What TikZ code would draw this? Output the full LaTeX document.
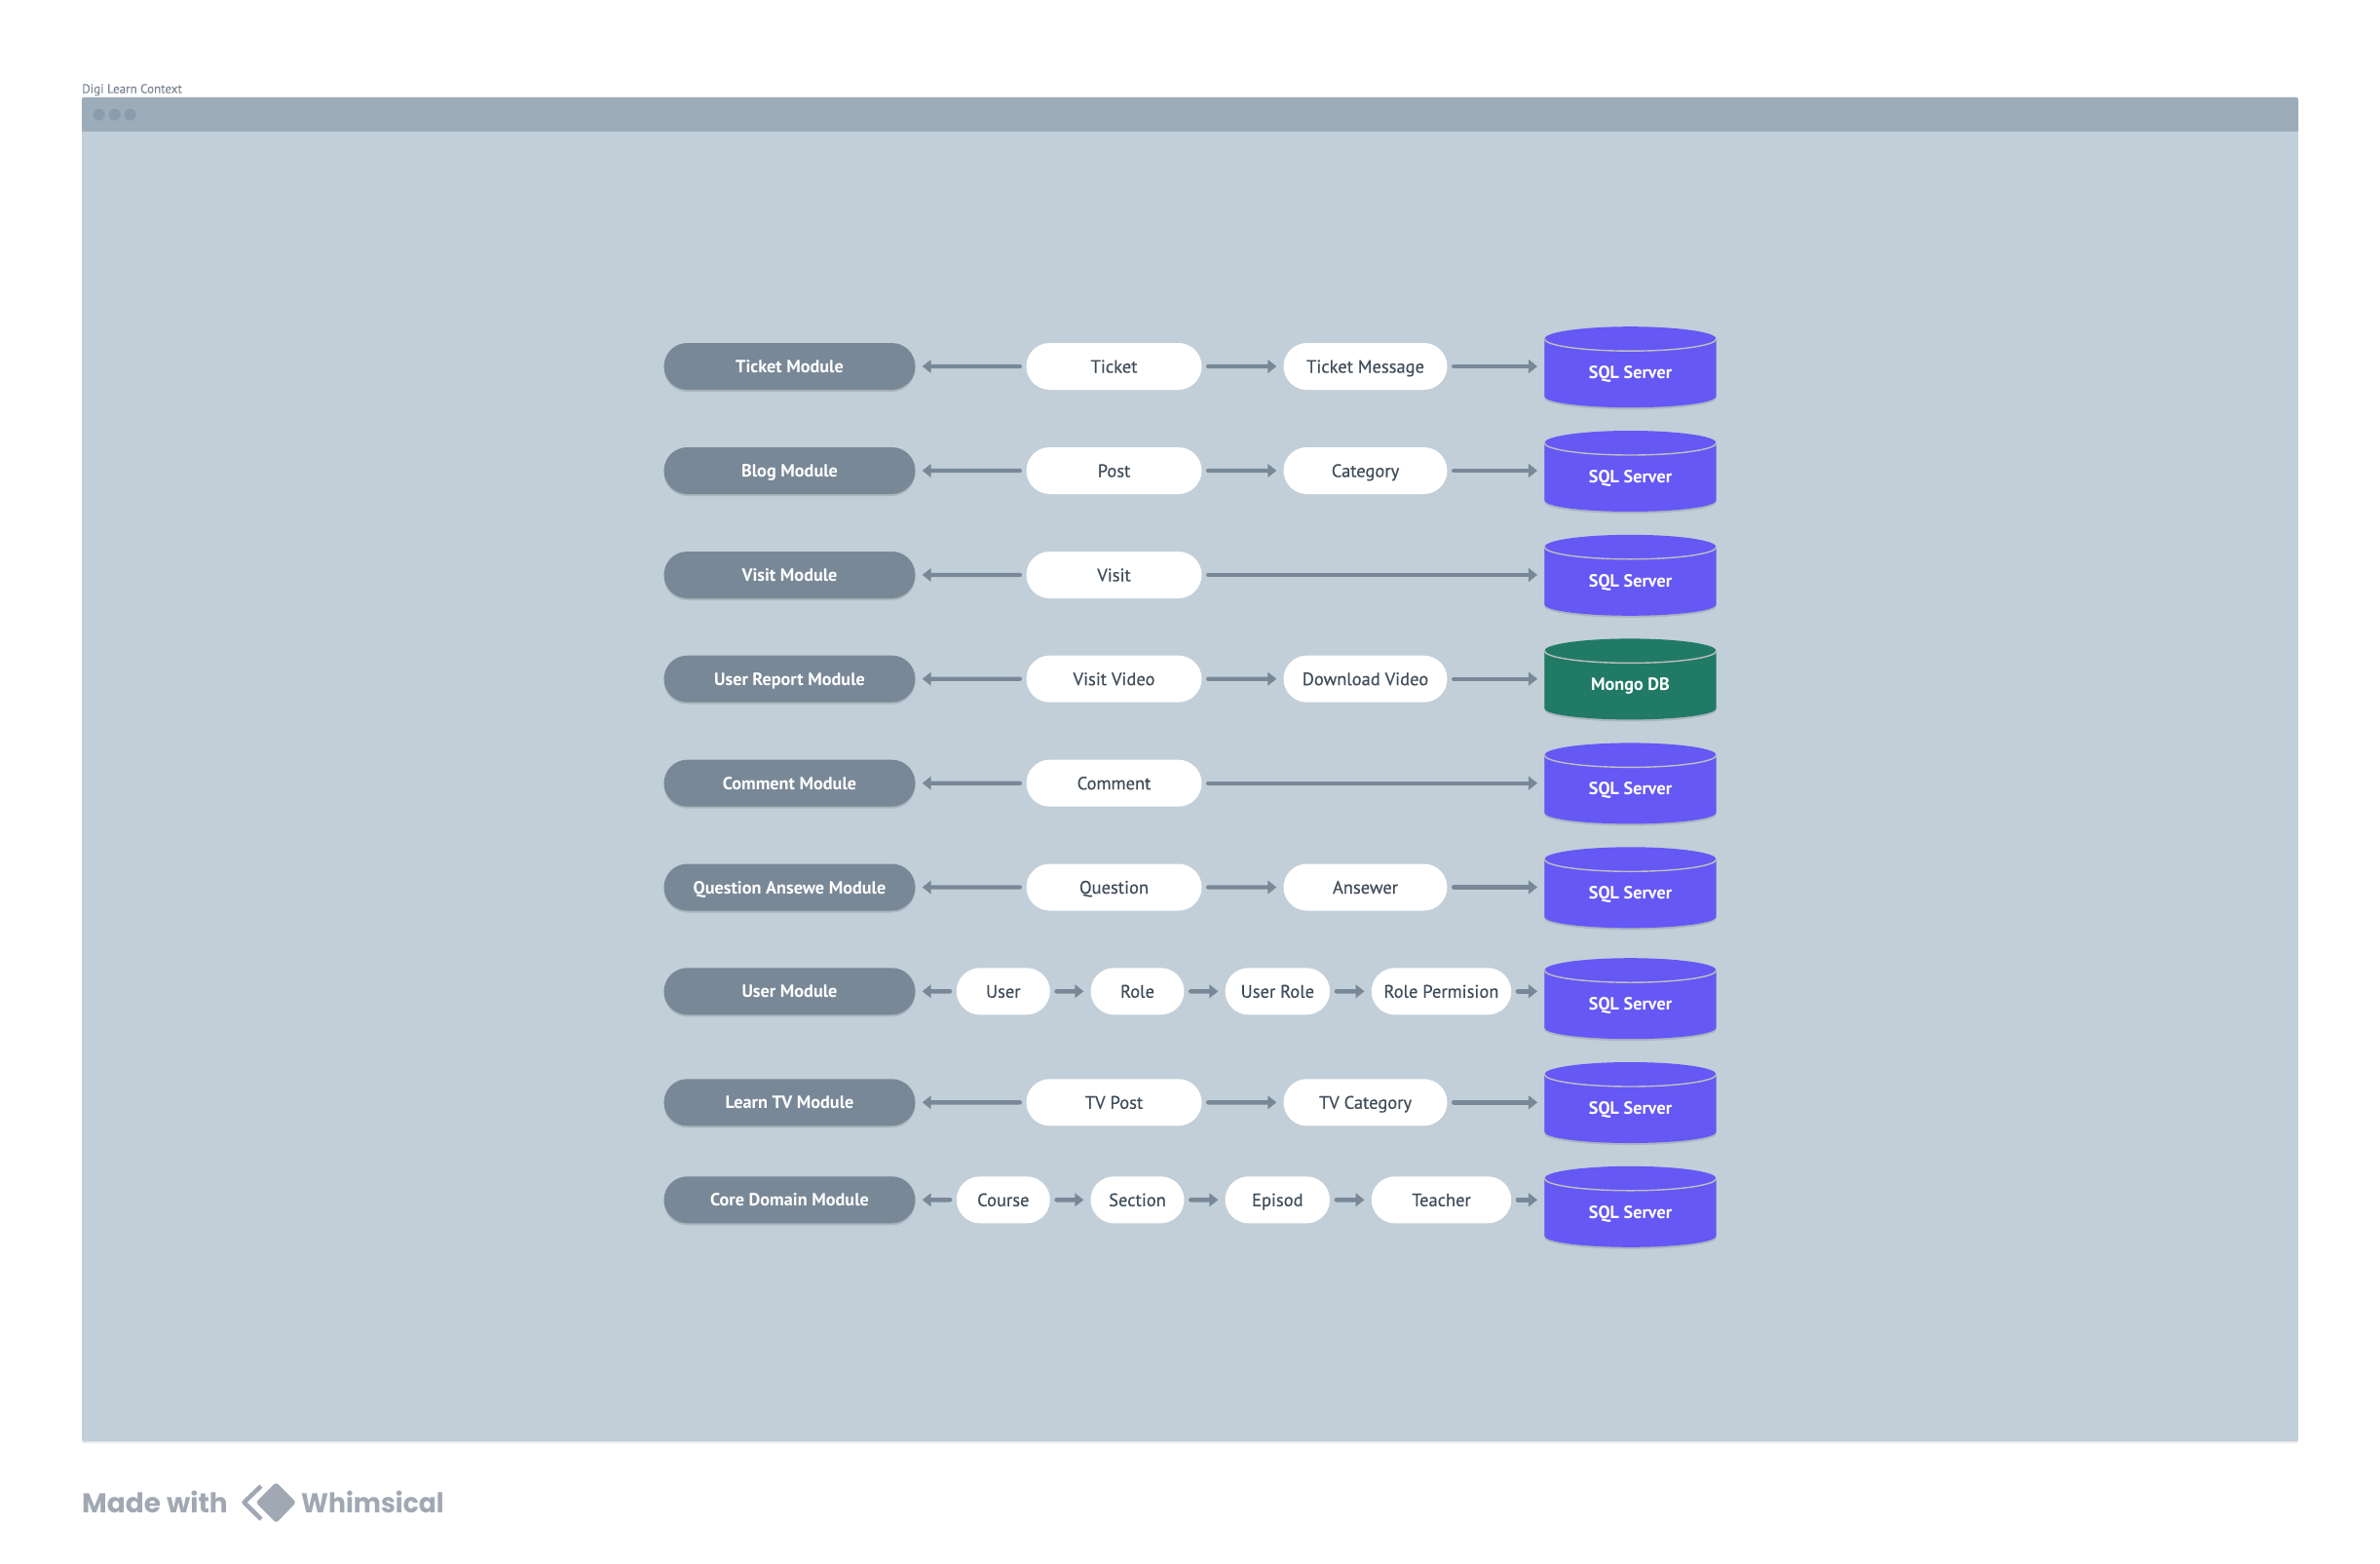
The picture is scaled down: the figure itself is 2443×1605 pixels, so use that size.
\documentclass[tikz,border=0pt]{standalone}
\usepackage{fontspec}
\setmainfont{PT Sans}
\newfontfamily\mediumfont{PT Sans}[FakeBold=0.25]
\newfontfamily\brandfont{Poppins}
\newfontfamily\brandnarrow{Poppins}[FakeStretch=0.95]
\usetikzlibrary{arrows.meta,shapes.misc,shadows}
\definecolor{framebg}{HTML}{C2CFD9}
\definecolor{framebar}{HTML}{9CACB9}
\definecolor{framedot}{HTML}{8B9CAC}
\definecolor{slatefill}{HTML}{788896}
\definecolor{inktext}{HTML}{3E4C59}
\definecolor{titletext}{HTML}{7B8794}
\definecolor{sqlfill}{HTML}{6558F5}
\definecolor{mongofill}{HTML}{207A66}
\definecolor{brandgray}{HTML}{A0A9B3}
\tikzset{
  softshadow/.style={drop shadow={shadow xshift=0pt,shadow yshift=-2pt,opacity=.12,fill=black}},
  pillbase/.style={rounded rectangle,minimum height=48pt,inner sep=0pt,text height=13pt,text depth=0pt},
  modulepill/.style={pillbase,fill=slatefill,text=white,minimum width=258pt,softshadow,font=\fontsize{18.2pt}{20pt}\selectfont\bfseries},
  entitypill/.style={pillbase,fill=white,text=inktext,font=\fontsize{18.5pt}{20pt}\mediumfont},
  dbframe/.style={rectangle,minimum width=176.4pt,minimum height=83pt,inner sep=0pt},
  dblabel/.style={text=white,inner sep=0pt,text height=13pt,text depth=0pt,font=\fontsize{18.2pt}{20pt}\selectfont\bfseries},
  flow/.style={draw=slatefill,line width=4.4pt,line cap=round,-{Triangle[length=9pt,width=13.5pt]},shorten <=6.5pt,shorten >=7pt},
}
% cylinder: #1 name, #2 x, #3 y, #4 colour, #5 text
\newcommand{\dbcyl}[5]{%
  \fill[#4,softshadow] (#2-88.2,#3-29) arc[start angle=180,end angle=0,x radius=88.2pt,y radius=12.5pt]
     -- (#2+88.2,#3+30) arc[start angle=0,end angle=-180,x radius=88.2pt,y radius=11.5pt] -- cycle;
  \draw[line width=1.4pt,color=white!50!gray] (#2-88.2,#3-29) arc[start angle=180,end angle=360,x radius=88.2pt,y radius=12.5pt];
  \node[dbframe] (#1) at (#2,#3) {};
  \node[dblabel] (#1t) at (#2,#3+5.5) {#5};
}
\begin{document}
\begin{tikzpicture}[x=1pt,y=-1pt]
\useasboundingbox (0,0) rectangle (2443,1605);
\fill[white] (0,0) rectangle (2443,1605);
% frame
\node[anchor=base west,inner sep=0pt,text=titletext,font=\fontsize{13pt}{14pt}\mediumfont] (title) at (84,95.5) {Digi Learn Context};
\fill[framebg,rounded corners=2pt,drop shadow={shadow xshift=0pt,shadow yshift=-2pt,opacity=.08,fill=black}] (84,100) rectangle (2359,1479);
\fill[framebar,rounded corners=2pt] (84,135) [sharp corners] -- (84,110) [rounded corners=2pt] -- (84,100) -- (2359,100) -- (2359,110) [sharp corners] -- (2359,135) -- cycle;
\fill[framedot] (101.7,117.7) circle (6);
\fill[framedot] (117.7,117.7) circle (6);
\fill[framedot] (133.7,117.7) circle (6);
% row 1
\node[modulepill] (m1) at (810.5,376) {Ticket Module};
\node[entitypill,minimum width=180pt] (a1) at (1143.5,376) {Ticket};
\node[entitypill,minimum width=168pt] (b1) at (1401.5,376) {Ticket Message};
\dbcyl{d1}{1673.5}{376.7}{sqlfill}{SQL Server}
% row 2
\node[modulepill] (m2) at (810.5,483) {Blog Module};
\node[entitypill,minimum width=180pt] (a2) at (1143.5,483) {Post};
\node[entitypill,minimum width=168pt] (b2) at (1401.5,483) {Category};
\dbcyl{d2}{1673.5}{483.5}{sqlfill}{SQL Server}
% row 3
\node[modulepill] (m3) at (810.5,590) {Visit Module};
\node[entitypill,minimum width=180pt] (a3) at (1143.5,590) {Visit};
\dbcyl{d3}{1673.5}{590.3}{sqlfill}{SQL Server}
% row 4
\node[modulepill] (m4) at (810.5,696.7) {User Report Module};
\node[entitypill,minimum width=180pt] (a4) at (1143.5,696.7) {Visit Video};
\node[entitypill,minimum width=168pt] (b4) at (1401.5,696.7) {Download Video};
\dbcyl{d4}{1673.5}{696.9}{mongofill}{Mongo DB}
% row 5
\node[modulepill] (m5) at (810.5,803.7) {Comment Module};
\node[entitypill,minimum width=180pt] (a5) at (1143.5,803.7) {Comment};
\dbcyl{d5}{1673.5}{803.9}{sqlfill}{SQL Server}
% row 6
\node[modulepill] (m6) at (810.5,910.5) {Question Ansewe Module};
\node[entitypill,minimum width=180pt] (a6) at (1143.5,910.5) {Question};
\node[entitypill,minimum width=168pt] (b6) at (1401.5,910.5) {Ansewer};
\dbcyl{d6}{1673.5}{910.8}{sqlfill}{SQL Server}
% row 7
\node[modulepill] (m7) at (810.5,1017.3) {User Module};
\node[entitypill,minimum width=96pt] (p7) at (1029.8,1017.3) {User};
\node[entitypill,minimum width=96pt] (q7) at (1167.5,1017.3) {Role};
\node[entitypill,minimum width=107.5pt] (r7) at (1311.3,1017.3) {User Role};
\node[entitypill,minimum width=143.5pt] (s7) at (1479.5,1017.3) {Role Permision};
\dbcyl{d7}{1673.5}{1024.7}{sqlfill}{SQL Server}
% row 8
\node[modulepill] (m8) at (810.5,1131.3) {Learn TV Module};
\node[entitypill,minimum width=180pt] (a8) at (1143.5,1131.3) {TV Post};
\node[entitypill,minimum width=168pt] (b8) at (1401.5,1131.3) {TV Category};
\dbcyl{d8}{1673.5}{1131.5}{sqlfill}{SQL Server}
% row 9
\node[modulepill] (m9) at (810.5,1231.3) {Core Domain Module};
\node[entitypill,minimum width=96pt] (p9) at (1029.8,1231.3) {Course};
\node[entitypill,minimum width=96pt] (q9) at (1167.5,1231.3) {Section};
\node[entitypill,minimum width=107.5pt] (r9) at (1311.3,1231.3) {Episod};
\node[entitypill,minimum width=143.5pt] (s9) at (1479.5,1231.3) {Teacher};
\dbcyl{d9}{1673.5}{1238.3}{sqlfill}{SQL Server}
% connectors
\foreach \r in {1,2,4,6,8}{
  \draw[flow] (a\r) -- (m\r);
  \draw[flow] (a\r) -- (b\r);
  \draw[flow] (b\r.east) -- (b\r.east -| d\r.west);
}
\foreach \r in {3,5}{
  \draw[flow] (a\r) -- (m\r);
  \draw[flow] (a\r.east) -- (a\r.east -| d\r.west);
}
\foreach \r in {7,9}{
  \draw[flow] (p\r) -- (m\r);
  \draw[flow] (p\r) -- (q\r);
  \draw[flow] (q\r) -- (r\r);
  \draw[flow] (r\r) -- (s\r);
  \draw[flow] (s\r.east) -- (s\r.east -| d\r.west);
}
% brand
\node[anchor=base west,inner sep=0pt,text=brandgray,font=\fontsize{28pt}{30pt}\brandfont\bfseries] (made) at (84,1552) {Made with};
\fill[brandgray,rounded corners=3pt] (283.5,1521) -- (304,1541.7) -- (283.5,1563) -- (262.5,1541.7) -- cycle;
\draw[brandgray,line width=4.5pt,line join=round] (268,1525) -- (250.5,1541.7) -- (268,1559);
\node[anchor=base west,inner sep=0pt,text=brandgray,font=\fontsize{28pt}{30pt}\brandnarrow\bfseries] (whim) at (309,1552) {Whimsical};
\end{tikzpicture}
\end{document}
